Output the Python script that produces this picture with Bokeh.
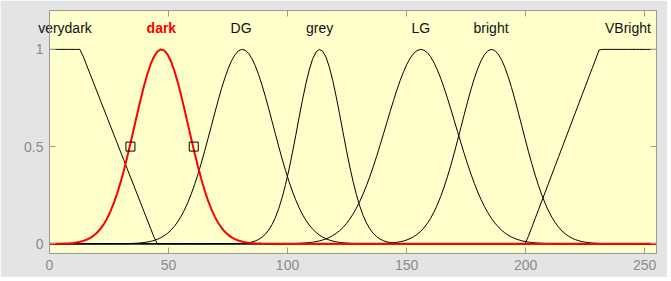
import numpy as np
from bokeh.plotting import figure
from bokeh.models import LinearAxis, Range1d, FixedTicker
from bokeh.embed import file_html
from bokeh.resources import INLINE

# ---- data ----
x_min, x_max = 0, 255
# gaussian membership functions
gauss_names = ["dark", "DG", "grey", "LG", "bright"]
gauss_centers = [47, 81, 113.5, 156, 185.7]
gauss_sigmas = [11.3, 13.0, 9.3, 14.7, 12.7]
# trapezoidal membership functions (a, b, c, d)
trap_names = ["verydark", "VBright"]
trap_params = [[0, 0, 13, 45], [200, 231, 255, 255]]
# labels above the functions
label_names = ["verydark", "dark", "DG", "grey", "LG", "bright", "VBright"]
label_x = [6.5, 47, 80.5, 113.5, 156, 185.5, 243]
selected = "dark"
# selection handles of the red function
handle_x = [34, 60.6]
handle_y = [0.5, 0.5]
x_ticks = [0, 50, 100, 150, 200, 250]
y_ticks = [0, 0.5, 1]

xs = np.linspace(x_min, x_max, 181)


def gaussmf(x, c, s):
    return np.exp(-((x - c) ** 2) / (2 * s * s))


def trapmf(x, a, b, c, d):
    up = np.ones_like(x) if b == a else (x - a) / (b - a)
    down = np.ones_like(x) if d == c else (d - x) / (d - c)
    return np.clip(np.minimum(np.minimum(up, down), 1), 0, 1)


curves = {}
for n, (a, b, c, d) in zip(trap_names, trap_params):
    curves[n] = trapmf(xs, a, b, c, d)
for n, c, s in zip(gauss_names, gauss_centers, gauss_sigmas):
    curves[n] = gaussmf(xs, c, s)

AX = "#9a9a9a"
TICK_TXT = "#8a8a8a"
FONT = "Liberation Sans"

p = figure(width=667, height=277,
           x_range=Range1d(x_min, x_max), y_range=Range1d(-0.05, 1.2),
           output_backend="svg", toolbar_location=None,
           min_border_left=49, min_border_right=11, min_border_top=10, min_border_bottom=24,
           background_fill_color="#ffffcc", border_fill_color="#e4e4e4",
           outline_line_color=AX, x_axis_location=None, y_axis_location=None)
p.grid.visible = False


def make_axis(ticks, labels):
    ax = LinearAxis(ticker=FixedTicker(ticks=ticks))
    ax.axis_line_color = AX
    ax.major_tick_line_color = AX
    ax.major_tick_in = 6
    ax.major_tick_out = 0
    ax.minor_tick_line_color = None
    ax.major_label_text_color = TICK_TXT
    ax.major_label_text_font = FONT
    ax.major_label_text_font_size = "14px"
    if labels:
        ax.major_label_standoff = 6
    else:
        ax.major_label_overrides = {t: "" for t in ticks}
        ax.major_label_standoff = 0
    return ax


p.add_layout(make_axis(x_ticks, True), "below")
p.add_layout(make_axis(y_ticks, True), "left")
p.add_layout(make_axis(x_ticks, False), "above")
p.add_layout(make_axis(y_ticks, False), "right")

for n in label_names:
    if n != selected:
        p.line(xs, curves[n], line_color="black", line_width=1)
p.line(xs, curves[selected], line_color="#ff0000", line_width=2)

p.scatter(handle_x, handle_y, marker="square", size=9, fill_color=None,
          line_color="black", line_width=1)


def name_axis(names, color, style):
    pos = [x for x, n in zip(label_x, label_names) if n in names]
    ax = LinearAxis(ticker=FixedTicker(ticks=pos),
                    major_label_overrides={x: n for x, n in zip(pos, names)})
    ax.axis_line_color = None
    ax.major_tick_line_color = None
    ax.minor_tick_line_color = None
    ax.major_tick_in = 0
    ax.major_tick_out = 0
    ax.major_label_standoff = -25
    ax.major_label_text_color = color
    ax.major_label_text_font_style = style
    ax.major_label_text_font = FONT
    ax.major_label_text_font_size = "14px"
    ax.major_label_text_baseline = "alphabetic"
    return ax


others = [n for n in label_names if n != selected]
p.add_layout(name_axis(others, "#111111", "normal"), "above")
p.add_layout(name_axis([selected], "#ff0000", "bold"), "above")

open("out.html", "w").write(file_html(p, INLINE))
